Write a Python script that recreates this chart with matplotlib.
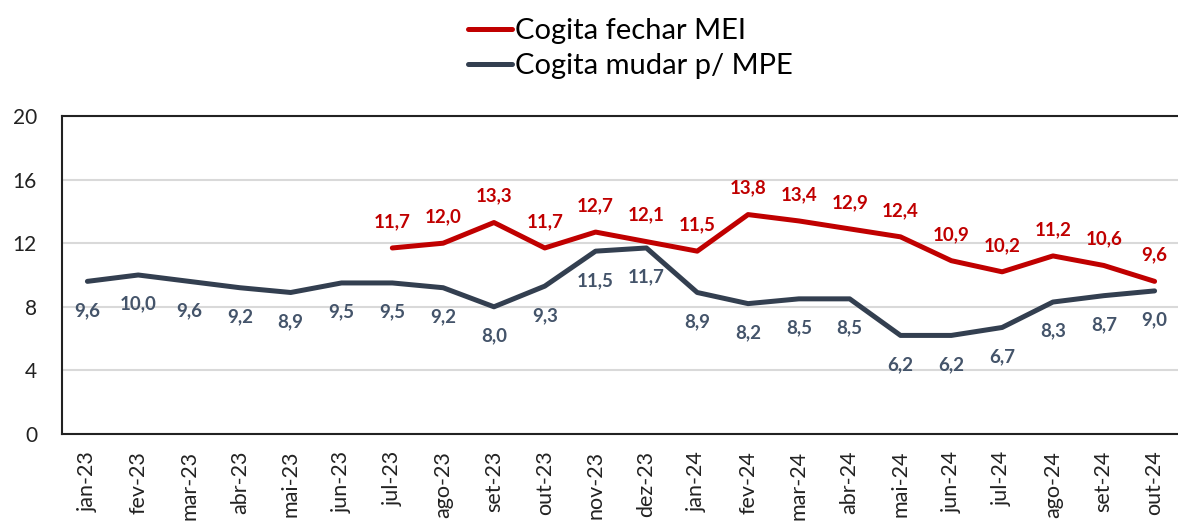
import matplotlib.pyplot as plt

plt.rcParams['font.family'] = ['Lato', 'DejaVu Sans']

months = ['jan-23', 'fev-23', 'mar-23', 'abr-23', 'mai-23', 'jun-23', 'jul-23',
          'ago-23', 'set-23', 'out-23', 'nov-23', 'dez-23', 'jan-24', 'fev-24',
          'mar-24', 'abr-24', 'mai-24', 'jun-24', 'jul-24', 'ago-24', 'set-24',
          'out-24']

# "fechar MEI" series only starts in jul-23
fechar_start = 6
fechar_mei = [11.7, 12.0, 13.3, 11.7, 12.7, 12.1, 11.5, 13.8, 13.4, 12.9,
              12.4, 10.9, 10.2, 11.2, 10.6, 9.6]
mudar_mpe = [9.6, 10.0, 9.6, 9.2, 8.9, 9.5, 9.5, 9.2, 8.0, 9.3, 11.5, 11.7,
             8.9, 8.2, 8.5, 8.5, 6.2, 6.2, 6.7, 8.3, 8.7, 9.0]

yticks = [0, 4, 8, 12, 16, 20]

RED = '#C00000'
NAVY = '#333F50'
NAVY_TXT = '#44546A'

fig = plt.figure(figsize=(11.78, 5.23), dpi=100)
ax = fig.add_axes([62 / 1178, 89 / 523, 1118 / 1178, 318 / 523])

x_all = list(range(len(months)))
x_red = x_all[fechar_start:]

l1, = ax.plot(x_red, fechar_mei, color=RED, lw=3.6, solid_capstyle='round',
              label='Cogita fechar MEI', zorder=3)
l2, = ax.plot(x_all, mudar_mpe, color=NAVY, lw=3.6, solid_capstyle='round',
              label='Cogita mudar p/ MPE', zorder=3)

for xi, v in zip(x_red, fechar_mei):
    ax.annotate(f'{v:.1f}'.replace('.', ','), (xi, v), xytext=(0, 19),
                textcoords='offset points', ha='center', va='center',
                fontsize=13.5, fontweight='bold', color=RED)
for xi, v in zip(x_all, mudar_mpe):
    ax.annotate(f'{v:.1f}'.replace('.', ','), (xi, v), xytext=(0, -21),
                textcoords='offset points', ha='center', va='center',
                fontsize=13.5, fontweight='bold', color=NAVY_TXT)

ax.set_xlim(-0.5, len(months) - 0.5)
ax.set_ylim(0, 20)
ax.set_yticks(yticks)
ax.set_xticks(x_all)
ax.set_xticklabels(months, rotation=90, fontsize=15.5, color='#222222')
ax.tick_params(axis='y', labelsize=15, colors='#222222', length=0, pad=18)
ax.tick_params(axis='x', length=0, pad=12)
ax.grid(axis='y', color='#D9D9D9', lw=1.5)
ax.set_axisbelow(True)
for s in ax.spines.values():
    s.set_color('#222222')
    s.set_linewidth(1.5)

fig.legend(handles=[l1, l2], loc='upper center', bbox_to_anchor=(0.535, 1.015),
           frameon=False, fontsize=21, handlelength=1.5, handletextpad=0.1,
           labelspacing=0.3)

fig.savefig('out.png', dpi=100)
